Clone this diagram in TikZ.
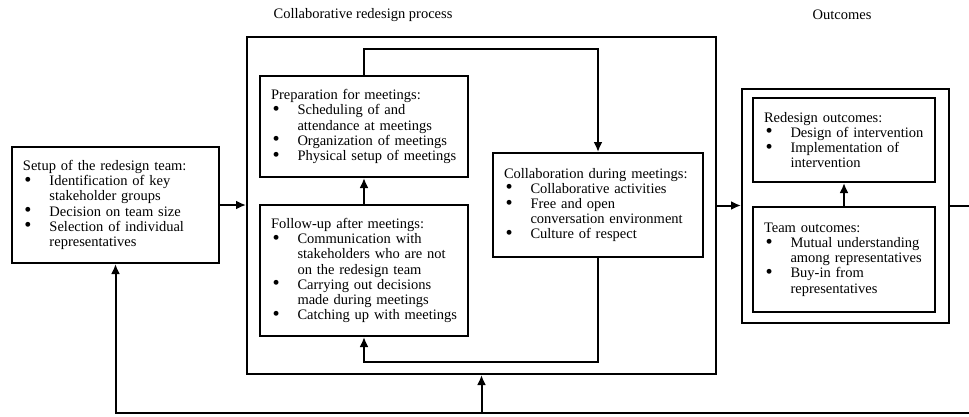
\documentclass[tikz,border=0pt]{standalone}
\usepackage{fontspec}
\usepackage{graphicx}
\setmainfont{Liberation Serif}
\usetikzlibrary{arrows.meta}
\newcommand\bul{\makebox[26.5pt][l]{\hspace{1.5pt}\smash{\raisebox{-0.6pt}{\scalebox{1.4}{\textbullet}}}}}
\newcommand\ind{\makebox[26.5pt]{}}
\begin{document}
\begin{tikzpicture}[x=1pt,y=-1pt,
  font=\fontsize{14.5}{15.2}\selectfont,
  box/.style={draw, line width=2pt, inner xsep=11pt, inner ysep=0pt, align=left},
  frame/.style={draw, line width=2pt, inner sep=0pt},
  title/.style={inner sep=0pt},
  arr/.style={line width=2pt, -{Latex[length=10pt,width=9pt]}}]
\useasboundingbox (0,0) rectangle (969,416);

\node[title] (t1) at (363,15) {Collaborative redesign process};
\node[title] (t2) at (842,15) {Outcomes};

\node[box, minimum width=207pt, text width=185pt, minimum height=116pt] (setup) at (115.5,205)
 {Setup of the redesign team:\\
  \bul Identification of key\\
  \ind stakeholder groups\\
  \bul Decision on team size\\
  \bul Selection of individual\\
  \ind representatives};

\node[frame, minimum width=469pt, minimum height=337pt] (process) at (481.5,205.5) {};

\node[box, minimum width=208pt, text width=186pt, minimum height=101pt] (prep) at (364,126.5)
 {Preparation for meetings:\\
  \bul Scheduling of and\\
  \ind attendance at meetings\\
  \bul Organization of meetings\\
  \bul Physical setup of meetings};

\node[box, minimum width=208pt, text width=186pt, minimum height=131pt] (follow) at (364,270.5)
 {Follow-up after meetings:\\
  \bul Communication with\\
  \ind stakeholders who are not\\
  \ind on the redesign team\\
  \bul Carrying out decisions\\
  \ind made during meetings\\
  \bul Catching up with meetings};

\node[box, minimum width=210pt, text width=188pt, minimum height=104pt] (collab) at (598,205)
 {Collaboration during meetings:\\
  \bul Collaborative activities\\
  \bul Free and open\\
  \ind conversation environment\\
  \bul Culture of respect};

\node[frame, minimum width=207pt, minimum height=234pt] (outer) at (845.5,206) {};

\node[box, minimum width=182pt, text width=160pt, minimum height=84pt] (redesign) at (844,140)
 {Redesign outcomes:\\
  \bul Design of intervention\\
  \bul Implementation of\\
  \ind intervention};

\node[box, minimum width=182pt, text width=160pt, minimum height=105pt] (team) at (844,259.5)
 {Team outcomes:\\
  \bul Mutual understanding\\
  \ind among representatives\\
  \bul Buy-in from\\
  \ind representatives};

\coordinate (topbend) at (480,49);
\coordinate (botbend) at (480,362);
\coordinate (fbR) at (985,413);

\draw[arr] (setup.east) -- (setup.east -| process.west);
\draw[arr] (process.east) -- (process.east -| outer.west);
\draw[arr] (prep.north) |- (topbend) -| (collab.north);
\draw[arr] (follow.north) -- (prep.south);
\draw[arr] (collab.south) |- (botbend) -| (follow.south);
\draw[arr] (team.north) -- (redesign.south);
\draw[arr] (outer.east) -| (fbR) -| (setup.south);
\draw[arr] (process.south |- fbR) -- (process.south);
\end{tikzpicture}
\end{document}
